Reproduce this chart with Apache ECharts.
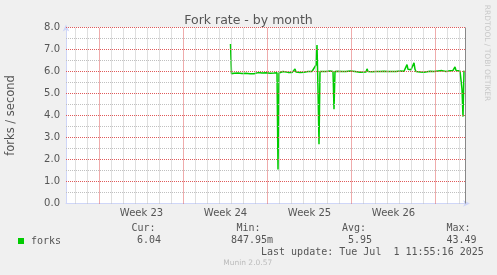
<!DOCTYPE html>
<html>
<head>
<meta charset="utf-8">
<script src="https://cdn.jsdelivr.net/npm/echarts@6/dist/echarts.min.js"></script>
<style>
html,body{margin:0;padding:0;background:#f0f0f0;}
#c{width:497px;height:275px;}
</style>
</head>
<body>
<div id="c"></div>
<script>
// Time axis unit: hours since Mon 2025-06-02 00:00 (start of Week 23)
const xMin = -67, xMax = 733;
const weekStarts = [0, 168, 336, 504, 672];
const weekLabelPos = [84, 252, 420, 588];
const weekLabels = ['Week 23', 'Week 24', 'Week 25', 'Week 26'];
const nowMarker = 731.5;

// forks per second
const hours = [262, 264, 269, 273, 277, 281, 285, 289, 293, 297, 301, 305, 309, 313, 317, 319, 321, 325, 333, 341, 345, 349, 355, 357, 359, 363, 367, 371, 377, 385, 389, 391, 393, 401, 409, 413, 417, 421, 425, 429, 433, 435, 437, 439, 441, 445, 453, 461, 467, 469, 471, 477, 485, 493, 501, 505, 511, 513, 515, 521, 525, 533, 535, 537, 545, 553, 561, 569, 577, 585, 589, 593, 601, 609, 613, 615, 617, 619, 621, 623, 627, 629, 631, 633, 641, 649, 653, 661, 669, 677, 685, 693, 701, 707, 711, 713, 717, 721, 723, 725, 727, 729];
const forks = [7.25, 5.90, 5.92, 5.88, 5.93, 5.90, 5.91, 5.89, 5.92, 5.90, 5.90, 5.93, 5.90, 5.91, 5.95, 6.00, 5.94, 5.93, 5.94, 5.92, 5.95, 5.93, 5.94, 1.55, 5.93, 5.96, 6.00, 5.96, 5.96, 5.95, 5.98, 6.12, 5.98, 5.96, 5.97, 5.96, 6.00, 5.96, 6.00, 5.98, 6.30, 7.20, 5.20, 2.69, 6.00, 6.02, 6.00, 6.02, 6.00, 4.29, 6.00, 6.01, 6.00, 6.00, 6.02, 5.99, 6.00, 6.08, 6.00, 5.97, 6.00, 5.98, 6.12, 6.00, 5.99, 6.00, 6.00, 6.01, 6.00, 6.00, 6.02, 6.00, 6.02, 6.01, 6.05, 6.31, 6.10, 6.10, 6.12, 6.08, 6.10, 6.39, 6.10, 6.00, 5.98, 5.97, 6.00, 6.01, 6.00, 6.02, 6.04, 6.00, 6.03, 6.05, 6.21, 6.05, 6.00, 6.02, 5.98, 5.20, 3.95, 6.04];

const statHeads = ['Cur:', 'Min:', 'Avg:', 'Max:'];
const statValues = ['6.04', '847.95m', '5.95', '43.49'];
const lastUpdate = 'Last update: Tue Jul  1 11:55:16 2025';

const minorDays = [];
for (let d = -48; d <= 720; d += 24) { if (weekStarts.indexOf(d) < 0) minorDays.push(d); }
const yMajor = [1, 2, 3, 4, 5, 6, 7, 8];
const yMinor = [0.5, 1.5, 2.5, 3.5, 4.5, 5.5, 6.5, 7.5];

const chart = echarts.init(document.getElementById('c'), null, {renderer: 'canvas'});
const mono = '"DejaVu Sans Mono", monospace';
const sans = '"DejaVu Sans", sans-serif';
const txtColor = '#555';
const majorColor = '#e05a5a';
const minorColor = '#c0c0c0';
const axisColor = '#cfd6f8';
const dash = [1, 1];

const graphic = [];
const headX = [131.5, 236.5, 342, 446.5];
const valX = [137, 231, 348, 446.5];
statHeads.forEach((t, i) => graphic.push({type: 'text', x: headX[i], y: 228, style: {text: t, font: '10px ' + mono, fill: txtColor, verticalAlign: 'middle'}}));
statValues.forEach((t, i) => graphic.push({type: 'text', x: valX[i], y: 240, style: {text: t, font: '10px ' + mono, fill: txtColor, verticalAlign: 'middle'}}));
graphic.push({type: 'text', x: 261, y: 252, style: {text: lastUpdate, font: '10px ' + mono, fill: txtColor, verticalAlign: 'middle'}});
graphic.push({type: 'text', x: 247.7, y: 263.5, style: {text: 'Munin 2.0.57', font: '7.5px ' + sans, fill: '#bbbbbb', align: 'center', verticalAlign: 'middle'}});
graphic.push({type: 'text', x: 486.5, y: 53, rotation: -Math.PI / 2, style: {text: 'RRDTOOL / TOBI OETIKER', font: '7.5px ' + sans, fill: '#c8c8c8', align: 'center', verticalAlign: 'middle'}});
graphic.push({type: 'text', x: 11, y: 115.5, rotation: Math.PI / 2, style: {text: 'forks / second', font: '11.5px ' + sans, fill: txtColor, align: 'center', verticalAlign: 'middle'}});

const vLine = (vals, color) => vals.map(v => ({xAxis: v, lineStyle: {color: color, width: 1, type: dash, opacity: 1}}));
const hLine = (vals, color) => vals.map(v => ({yAxis: v, lineStyle: {color: color, width: 1, type: dash, opacity: 1}}));

chart.setOption({
  animation: false,
  backgroundColor: '#f0f0f0',
  title: {text: 'Fork rate - by month', left: 'center', top: 9, textStyle: {fontFamily: sans, fontSize: 12.5, fontWeight: 'normal', color: txtColor}},
  legend: {left: 13, top: 231, icon: 'rect', itemWidth: 6, itemHeight: 6, itemGap: 8, data: [{name: 'forks', icon: 'rect'}], textStyle: {fontFamily: mono, fontSize: 10, color: txtColor, padding: [0, 0, 0, 2]}},
  grid: {left: 66, width: 400, top: 27.5, height: 176, show: true, backgroundColor: '#ffffff', borderWidth: 0},
  xAxis: {
    type: 'value', min: xMin, max: xMax,
    axisLine: {show: true, onZero: false, lineStyle: {color: axisColor, width: 1}, symbol: ['none', 'arrow'], symbolSize: [5, 7], symbolOffset: [0, 4]},
    axisTick: {show: false},
    splitLine: {show: false},
    axisLabel: {customValues: weekLabelPos, formatter: v => weekLabels[weekLabelPos.indexOf(v)] || '', fontFamily: sans, fontSize: 10, color: txtColor, margin: 5}
  },
  yAxis: {
    type: 'value', min: 0, max: 8, interval: 1,
    axisLine: {show: true, onZero: false, lineStyle: {color: axisColor, width: 1}, symbol: ['none', 'arrow'], symbolSize: [5, 7], symbolOffset: [0, 3]},
    axisTick: {show: false},
    axisLabel: {formatter: v => v.toFixed(1), fontFamily: sans, fontSize: 10, color: txtColor, margin: 6},
    splitLine: {show: false}
  },
  graphic: graphic,
  series: [
    {
      type: 'line', name: 'grid', data: [], silent: true, z: 1,
      markLine: {silent: true, symbol: ['none', 'none'], label: {show: false}, animation: false, precision: 4,
        emphasis: {disabled: true},
        data: hLine(yMinor, minorColor).concat(vLine(minorDays, minorColor)).concat(hLine(yMajor, majorColor)).concat(vLine(weekStarts, majorColor))
          .concat([{xAxis: nowMarker, lineStyle: {color: '#888888', width: 1, type: 'solid'}}])}
    },
    {
      type: 'line', name: 'forks', z: 3,
      data: hours.map((h, i) => [h, forks[i]]),
      showSymbol: false, symbol: 'none',
      lineStyle: {color: '#00cc00', width: 1.5},
      itemStyle: {color: '#00cc00'}
    }
  ]
});
</script>
</body>
</html>
